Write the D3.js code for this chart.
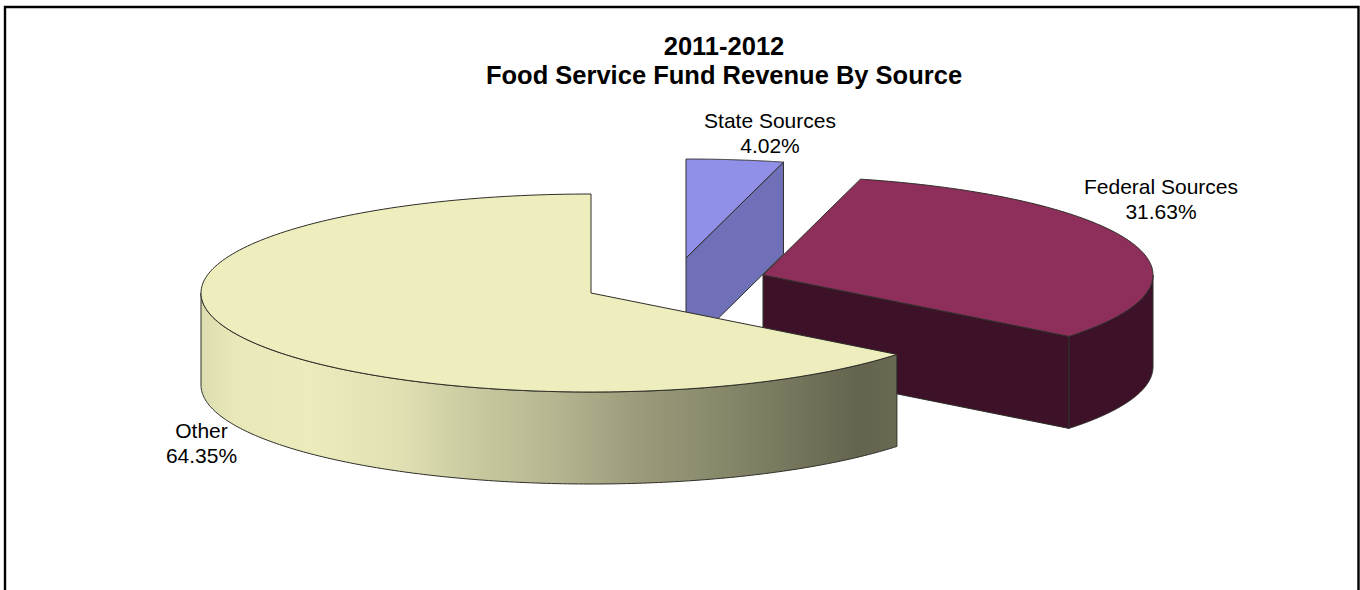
<!DOCTYPE html>
<html>
<head>
<meta charset="utf-8">
<script src="https://cdn.jsdelivr.net/npm/d3@7"></script>
<style>
  html, body { margin: 0; padding: 0; background: #fff; overflow: hidden; }
  text { font-family: "Liberation Sans", Arial, sans-serif; fill: #000; }
</style>
</head>
<body>
<svg id="chart" width="1360" height="590"></svg>
<script>
const categories = ["State Sources", "Federal Sources", "Other"];
const shares = [4.02, 31.63, 64.35];
const shareLabels = ["4.02%", "31.63%", "64.35%"];
const titleLines = ["2011-2012", "Food Service Fund Revenue By Source"];

// Pixel position of each slice's apex once exploded
const apexX = [686, 763, 591];
const apexY = [258, 275, 293];
const topColors = ["#9090e8", "#8e2f5b", "#ededbd"];
const sideColors = ["#7070b8", "#3d1228", "url(#otherRim)"];
const labelX = [770, 1161, 201.5];
const labelY = [128, 194, 438];

const radiusX = 390, radiusY = 99, depth = 92;
const rimStops = [
  [201, "#dcdcae"], [235, "#e8e8b9"], [310, "#ebebbc"], [400, "#e0e0b3"],
  [480, "#c8c89f"], [560, "#b4b490"], [640, "#9b9b7b"], [720, "#88886b"],
  [800, "#74745b"], [860, "#64644f"], [897, "#6a6a52"]
];

const svg = d3.select("#chart");

const rim = svg.append("defs").append("linearGradient")
  .attr("id", "otherRim").attr("gradientUnits", "userSpaceOnUse")
  .attr("x1", 201).attr("x2", 897).attr("y1", 0).attr("y2", 0);
rim.selectAll("stop").data(rimStops).join("stop")
  .attr("offset", d => (d[0] - 201) / (897 - 201))
  .attr("stop-color", d => d[1]);

// Frame: runs off the bottom edge of the page
svg.append("path")
  .attr("d", d3.line()([[5, 590], [5, 7], [1358.5, 7], [1358.5, 590]]))
  .attr("fill", "none").attr("stroke", "#000").attr("stroke-width", 2.4);

const slices = d3.pie().sort(null).value(d => d)(shares);
const line = d3.line();

// Point on the tilted pie; angle is clockwise from twelve o'clock
const rimPoint = (i, a, drop = 0) => [
  apexX[i] + radiusX * Math.sin(a),
  apexY[i] - radiusY * Math.cos(a) + drop
];
const sweep = (i, a0, a1, drop = 0) =>
  d3.range(0, 181).map(k => rimPoint(i, a0 + (a1 - a0) * k / 180, drop));

const g = svg.append("g").attr("stroke", "#2e2e28").attr("stroke-width", 1)
  .attr("stroke-linejoin", "round");

slices.forEach((s, i) => {
  const apex = [apexX[i], apexY[i]];
  const apexLow = [apexX[i], apexY[i] + depth];

  // Outer wall, only where the rim faces the viewer
  const wallStart = Math.max(s.startAngle, Math.PI / 2);
  const wallEnd = Math.min(s.endAngle, 3 * Math.PI / 2);
  if (wallEnd > wallStart) {
    g.append("path")
      .attr("d", line([...sweep(i, wallStart, wallEnd), ...sweep(i, wallEnd, wallStart, depth)]) + "Z")
      .attr("fill", sideColors[i]);
  }

  // Cut face along the trailing edge of the two exploded slices
  if (i < 2) {
    const c = rimPoint(i, s.endAngle);
    g.append("path")
      .attr("d", line([apex, c, [c[0], c[1] + depth], apexLow]) + "Z")
      .attr("fill", sideColors[i]);
  }

  g.append("path")
    .attr("d", line([apex, ...sweep(i, s.startAngle, s.endAngle)]) + "Z")
    .attr("fill", topColors[i]);
});

// Title
svg.append("g").selectAll("text").data(titleLines).join("text")
  .attr("x", 724).attr("y", (d, i) => 54.5 + i * 29)
  .attr("text-anchor", "middle")
  .attr("font-size", 25.5).attr("font-weight", "bold")
  .text(d => d);

// Category and share labels
const labels = svg.append("g").selectAll("g").data(categories).join("g");
labels.append("text")
  .attr("x", (d, i) => labelX[i]).attr("y", (d, i) => labelY[i])
  .attr("text-anchor", "middle").attr("font-size", 21)
  .text(d => d);
labels.append("text")
  .attr("x", (d, i) => labelX[i]).attr("y", (d, i) => labelY[i] + 24.5)
  .attr("text-anchor", "middle").attr("font-size", 21)
  .text((d, i) => shareLabels[i]);
</script>
</body>
</html>
